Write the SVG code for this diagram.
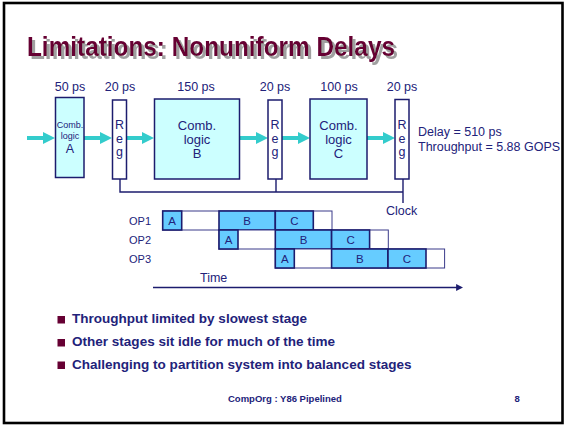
<svg xmlns="http://www.w3.org/2000/svg" width="565" height="427" viewBox="0 0 565 427">
  <style>
    .t { font-family: "Liberation Sans", Arial, sans-serif; fill: #22227a; }
    .lbl { font-size: 12.5px; text-anchor: middle; }
    .comb { fill: #ccffff; stroke: #1c1c6e; stroke-width: 1.5; }
    .reg { fill: #ffffff; stroke: #1c1c6e; stroke-width: 1.5; }
    .flow { stroke: #33cccc; stroke-width: 4; fill: none; }
    .wire { stroke: #1c1c6e; stroke-width: 1.4; fill: none; }
    .slot { fill: #ffffff; stroke: #3a3a8a; stroke-width: 1; }
    .cell { fill: #66ccff; stroke: #1c1c6e; stroke-width: 1.6; }
    .cl { font-size: 11.5px; text-anchor: middle; }
    .bul { font-size: 13.5px; font-weight: bold; }
    .dot { fill: #660033; }
  </style>
  <defs>
    <marker id="head" viewBox="0 0 12 12" markerWidth="12" markerHeight="12" refX="0" refY="6" markerUnits="userSpaceOnUse" orient="auto">
      <path d="M0,0 L12,6 L0,12 z" fill="#33cccc"/>
    </marker>
    <marker id="timehead" viewBox="0 0 8 8" markerWidth="7" markerHeight="7" refX="1" refY="4" markerUnits="userSpaceOnUse" orient="auto">
      <path d="M0,0 L8,4 L0,8 z" fill="#1c1c6e"/>
    </marker>
    <!-- grey drop shadow for the heading -->
    <filter id="shadow" x="-5%" y="-20%" width="110%" height="150%">
      <feFlood flood-color="#a0a0a0" result="grey"/>
      <feComposite in="grey" in2="SourceAlpha" operator="in" result="mask"/>
      <feOffset in="mask" dx="2.5" dy="2.5" result="drop"/>
      <feMerge>
        <feMergeNode in="drop"/>
        <feMergeNode in="SourceGraphic"/>
      </feMerge>
    </filter>
  </defs>

  <!-- page frame -->
  <rect x="4" y="3" width="558.5" height="420" fill="#ffffff" stroke="#000000" stroke-width="2.6"/>

  <!-- title -->
  <text id="title" x="27" y="56" fill="#660033" filter="url(#shadow)" font-family="'Liberation Sans', Arial, sans-serif" font-weight="bold" font-size="28" textLength="368" lengthAdjust="spacingAndGlyphs">Limitations: Nonuniform Delays</text>

  <!-- stage delays -->
  <g id="delays" class="t lbl">
    <text x="70" y="91">50 ps</text>
    <text x="120" y="91">20 ps</text>
    <text x="196" y="91">150 ps</text>
    <text x="275" y="91">20 ps</text>
    <text x="339" y="91">100 ps</text>
    <text x="402" y="91">20 ps</text>
  </g>

  <!-- data flow arrows and clock wiring -->
  <g id="connectors">
    <line class="flow" x1="27" y1="138" x2="43" y2="138" marker-end="url(#head)"/>
    <line class="flow" x1="84" y1="138" x2="100" y2="138" marker-end="url(#head)"/>
    <line class="flow" x1="127" y1="138" x2="142" y2="138" marker-end="url(#head)"/>
    <line class="flow" x1="239" y1="138" x2="256" y2="138" marker-end="url(#head)"/>
    <line class="flow" x1="282" y1="138" x2="298" y2="138" marker-end="url(#head)"/>
    <line class="flow" x1="367" y1="138" x2="383" y2="138" marker-end="url(#head)"/>
    <path class="wire" d="M120,179 V192 H403 M276,179 V192 M403,179 V203"/>
  </g>

  <!-- combinational stages and registers -->
  <g id="combA">
    <rect class="comb" x="55.5" y="97.5" width="28.5" height="80"/>
    <text class="t" x="70" y="128" font-size="9" text-anchor="middle">Comb.</text>
    <text class="t" x="70" y="139" font-size="9" text-anchor="middle">logic</text>
    <text class="t" x="70" y="153" font-size="12.5" text-anchor="middle">A</text>
  </g>
  <g id="reg1">
    <rect class="reg" x="112.5" y="100" width="14" height="79"/>
    <text class="t lbl" x="119.5" y="128.5">R</text>
    <text class="t lbl" x="119.5" y="142.5">e</text>
    <text class="t lbl" x="119.5" y="156">g</text>
  </g>
  <g id="combB">
    <rect class="comb" x="154.5" y="99" width="85" height="80"/>
    <text class="t" x="197" y="130" font-size="13" text-anchor="middle">Comb.</text>
    <text class="t" x="197" y="143.5" font-size="13" text-anchor="middle">logic</text>
    <text class="t" x="197" y="157.5" font-size="13" text-anchor="middle">B</text>
  </g>
  <g id="reg2">
    <rect class="reg" x="268" y="100" width="14" height="79"/>
    <text class="t lbl" x="275" y="128.5">R</text>
    <text class="t lbl" x="275" y="142.5">e</text>
    <text class="t lbl" x="275" y="156">g</text>
  </g>
  <g id="combC">
    <rect class="comb" x="310" y="99" width="57" height="80"/>
    <text class="t" x="338.5" y="130" font-size="13" text-anchor="middle">Comb.</text>
    <text class="t" x="338.5" y="143.5" font-size="13" text-anchor="middle">logic</text>
    <text class="t" x="338.5" y="157.5" font-size="13" text-anchor="middle">C</text>
  </g>
  <g id="reg3">
    <rect class="reg" x="395" y="99.5" width="14" height="79.5"/>
    <text class="t lbl" x="402" y="128.5">R</text>
    <text class="t lbl" x="402" y="142.5">e</text>
    <text class="t lbl" x="402" y="156">g</text>
  </g>

  <g id="metrics" class="t" font-size="12.5">
    <text x="418" y="136">Delay = 510 ps</text>
    <text x="418" y="151">Throughput = 5.88 GOPS</text>
  </g>
  <text id="clock" class="t" x="386" y="215" font-size="12.5">Clock</text>

  <!-- pipeline timing -->
  <g id="op1">
    <text class="t" x="129" y="225" font-size="11">OP1</text>
    <rect class="slot" x="162.7" y="211" width="169.3" height="19"/>
    <rect class="cell" x="162.7" y="211" width="19" height="19"/>
    <rect class="cell" x="219" y="211" width="56.3" height="19"/>
    <rect class="cell" x="275.3" y="211" width="38" height="19"/>
    <text class="t cl" x="172.2" y="225">A</text>
    <text class="t cl" x="247.2" y="225">B</text>
    <text class="t cl" x="294.3" y="225">C</text>
  </g>
  <g id="op2">
    <text class="t" x="129" y="244" font-size="11">OP2</text>
    <rect class="slot" x="219" y="230" width="169.3" height="19"/>
    <rect class="cell" x="219" y="230" width="19" height="19"/>
    <rect class="cell" x="275.3" y="230" width="56.3" height="19"/>
    <rect class="cell" x="331.6" y="230" width="38" height="19"/>
    <text class="t cl" x="228.5" y="244">A</text>
    <text class="t cl" x="303.5" y="244">B</text>
    <text class="t cl" x="350.6" y="244">C</text>
  </g>
  <g id="op3">
    <text class="t" x="129" y="263" font-size="11">OP3</text>
    <rect class="slot" x="275.3" y="249" width="169.3" height="19"/>
    <rect class="cell" x="275.3" y="249" width="19" height="19"/>
    <rect class="cell" x="331.6" y="249" width="56.3" height="19"/>
    <rect class="cell" x="388" y="249" width="38" height="19"/>
    <text class="t cl" x="284.8" y="263">A</text>
    <text class="t cl" x="359.8" y="263">B</text>
    <text class="t cl" x="407" y="263">C</text>
  </g>

  <g id="time">
    <text class="t" x="200" y="282" font-size="12.5">Time</text>
    <line class="wire" x1="153" y1="287.5" x2="457" y2="287.5" marker-end="url(#timehead)"/>
  </g>

  <!-- bullet points -->
  <g id="bullets">
    <rect class="dot" x="57.5" y="316" width="7.5" height="7.5"/>
    <text class="t bul" x="72" y="323" textLength="235" lengthAdjust="spacingAndGlyphs">Throughput limited by slowest stage</text>
    <rect class="dot" x="57.5" y="339" width="7.5" height="7.5"/>
    <text class="t bul" x="72" y="346" textLength="263" lengthAdjust="spacingAndGlyphs">Other stages sit idle for much of the time</text>
    <rect class="dot" x="57.5" y="361.5" width="7.5" height="7.5"/>
    <text class="t bul" x="72" y="368.5" textLength="339.5" lengthAdjust="spacingAndGlyphs">Challenging to partition system into balanced stages</text>
  </g>

  <g id="footer" class="t" font-size="9.5" font-weight="bold">
    <text x="228" y="402">CompOrg : Y86 Pipelined</text>
    <text x="514.5" y="402">8</text>
  </g>
</svg>
